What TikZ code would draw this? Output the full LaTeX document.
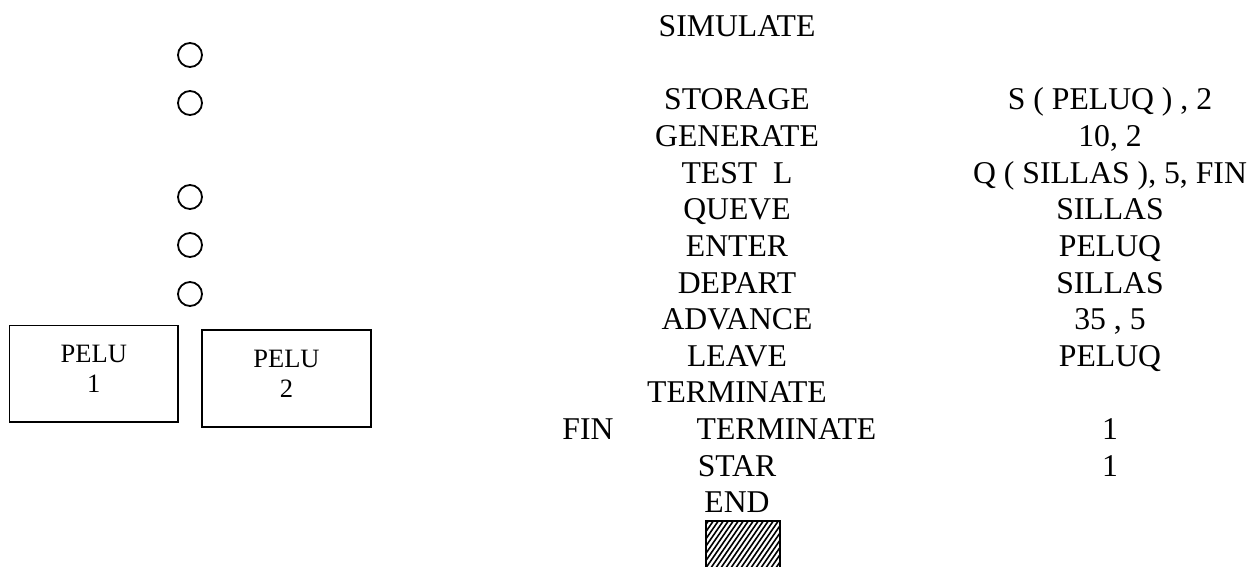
\documentclass[tikz,border=0pt]{standalone}
\usepackage{fontspec}
\setmainfont{Liberation Serif}
\begin{document}
\begin{tikzpicture}[x=1pt,y=-1pt,
  code/.style={font=\fontsize{31.7}{36.5}\selectfont, anchor=base, inner sep=0pt},
  slot/.style={circle, draw, line width=1.8pt, minimum size=24pt, inner sep=0pt},
  barber/.style={draw, line width=1.6pt, inner sep=0pt, align=center,
    font=\fontsize{26.5}{30.3}\selectfont, text depth=9.5pt},
  hatchbox/.style={draw, line width=1.8pt, inner sep=0pt,
    path picture={
      \foreach \s in {-66,-61,...,78}
        \draw[line width=1.6pt] ([xshift=\s pt]path picture bounding box.south west) -- ++(58,-84);
    }},
]
\clip (0,0) rectangle (1258,567);

% waiting chairs
\node[slot] (c1) at (190,55) {};
\node[slot] (c2) at (190,103) {};
\node[slot] (c3) at (190,197) {};
\node[slot] (c4) at (190,245) {};
\node[slot] (c5) at (190,294) {};

% barbers
\node[barber, minimum width=168.4pt, minimum height=96.5pt] (pelu1) at (93.8,373.75) {PELU\\1};
\node[barber, minimum width=169pt, minimum height=97pt] (pelu2) at (286.5,378.5) {PELU\\2};

% GPSS program
\node[code] (sim) at (737,36.5) {SIMULATE};

\node[code] (stor) at (737,110) {STORAGE};
\node[code] (storA) at (1110,110) {S ( PELUQ ) , 2};
\node[code] (gen) at (737,146.6) {GENERATE};
\node[code] (genA) at (1110,146.6) {10, 2};
\node[code] (test) at (737,183.2) {TEST\ \ L};
\node[code] (testA) at (1110,183.2) {Q ( SILLAS ), 5, FIN};
\node[code] (queue) at (737,219.8) {QUEVE};
\node[code] (queueA) at (1110,219.8) {SILLAS};
\node[code] (enter) at (737,256.4) {ENTER};
\node[code] (enterA) at (1110,256.4) {PELUQ};
\node[code] (depart) at (737,293) {DEPART};
\node[code] (departA) at (1110,293) {SILLAS};
\node[code] (adv) at (737,329.6) {ADVANCE};
\node[code] (advA) at (1110,329.6) {35 , 5};
\node[code] (leave) at (737,366.2) {LEAVE};
\node[code] (leaveA) at (1110,366.2) {PELUQ};
\node[code] (term) at (737,402.8) {TERMINATE};
\node[code] (fin) at (588,439.4) {FIN};
\node[code] (termB) at (786.5,439.4) {TERMINATE};
\node[code] (termBA) at (1110,439.4) {1};
\node[code] (star) at (737,476) {STAR};
\node[code] (starA) at (1110,476) {1};
\node[code] (endl) at (737,512.6) {END};

% end mark
\node[hatchbox, minimum width=74pt, minimum height=70pt, anchor=north] (endmark) at (743,520) {};
\end{tikzpicture}
\end{document}
